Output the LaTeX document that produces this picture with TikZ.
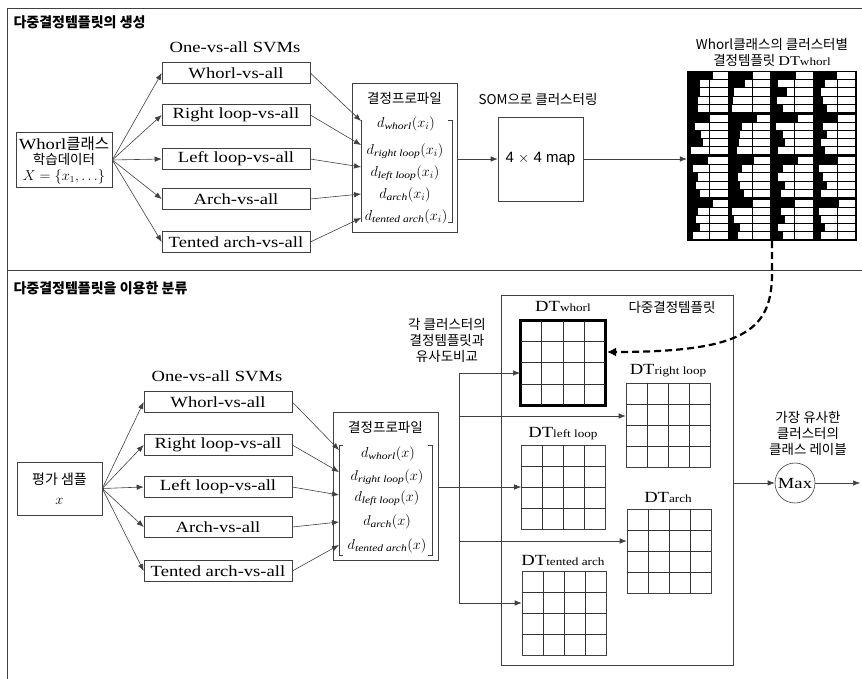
\documentclass[tikz,border=0pt]{standalone}
\usepackage{fontspec}
\setmainfont{Liberation Serif}[FakeStretch=1.2]
\setsansfont{Liberation Sans}
\newfontfamily\kr{Noto Sans CJK KR}
\usetikzlibrary{arrows.meta,calc}
\newcommand{\K}[1]{{\kr #1}}
\newcommand{\sm}[1]{{\fontsize{11}{12}\selectfont #1}}
\newcommand{\sub}[1]{\mbox{\fontsize{9.6}{11}\selectfont\itshape #1}}
\newcommand{\mygrid}[1]{%
  \foreach \i in {1,2,3}{%
    \draw[gl] ($(#1.north west)!\i/4!(#1.north east)$) -- ($(#1.south west)!\i/4!(#1.south east)$);
    \draw[gl] ($(#1.north west)!\i/4!(#1.south west)$) -- ($(#1.north east)!\i/4!(#1.south east)$);
  }}
\begin{document}
\begin{tikzpicture}[x=1pt,y=-1pt,
  lat/.style={font=\fontsize{15.5}{18}\selectfont},
  kor/.style={font=\kr\fontsize{13.5}{16}\selectfont},
  ttl/.style={font=\kr\bfseries\fontsize{14}{16}\selectfont, anchor=west},
  ent/.style={font=\fontsize{14.5}{17}\selectfont, inner sep=0pt},
  box/.style={draw=black!75, line width=0.6pt, inner sep=0pt},
  svm/.style={box, minimum width=148pt, minimum height=21pt, lat},
  conn/.style={draw=black!75, line width=0.6pt},
  arr/.style={conn, -{Latex[length=7pt,width=5.5pt]}},
  gl/.style={draw=black!80, line width=0.6pt},
  dt/.style={box, minimum width=84pt, minimum height=84pt},
  dtlab/.style={font=\fontsize{15.5}{18}\selectfont, inner sep=0pt},
]
\useasboundingbox (0,0) rectangle (862,679);

% frame
\draw[conn] (7,679) -- (7,8) -- (862,8);
\draw[conn] (7,270) -- (862,270);

% ================= top =================
\node[ttl] (title1) at (10,22) {다중결정템플릿의 생성};
\node[lat] (svmlab1) at (235,47) {One-vs-all SVMs};

\node[box, minimum width=96pt, minimum height=55pt, align=center, font=\fontsize{13.5}{15.5}\selectfont] (in1) at (64,160)
  {\fontsize{15.5}{15.5}\selectfont Whorl\K{클래스}\\ \K{학습데이터}\\ $X=\{x_1,\ldots\}$};

\node[svm] (s1) at (236,73) {Whorl-vs-all};
\node[svm] (s2) at (236,115) {Right loop-vs-all};
\node[svm] (s3) at (236,159) {Left loop-vs-all};
\node[svm] (s4) at (236,199) {Arch-vs-all};
\node[svm] (s5) at (236,242) {Tented arch-vs-all};
\foreach \n in {s1,s2,s3,s4,s5} \draw[arr] (in1.east) -- (\n.west);

\node[box, minimum width=105pt, minimum height=149pt] (prof1) at (404.5,157.5) {};
\node[kor] (pt1) at (404.5,98) {결정프로파일};
\node[ent] (e11) at (406,124) {$d_{\sub{whorl}}(x_i)$};
\node[ent] (e12) at (405,151) {$d_{\sub{right loop}}(x_i)$};
\node[ent] (e13) at (405,173) {$d_{\sub{left loop}}(x_i)$};
\node[ent] (e14) at (405,195) {$d_{\sub{arch}}(x_i)$};
\node[ent] (e15) at (406,217) {$d_{\sub{tented arch}}(x_i)$};
\draw[conn, line width=0.9pt] (361,120) -- (361,222);
\draw[conn, line width=0.9pt] (448,120) -- (452,120) -- (452,222) -- (448,222);
\coordinate (b11) at (361,121);
\coordinate (b12) at (361,145);
\coordinate (b13) at (361,167);
\coordinate (b14) at (361,194);
\coordinate (b15) at (361,218);
\draw[arr] (s1.east) -- (b11);
\draw[arr] (s2.east) -- (b12);
\draw[arr] (s3.east) -- (b13);
\draw[arr] (s4.east) -- (b14);
\draw[arr] (s5.east) -- (b15);

\node[kor] (somlab) at (538,99) {SOM으로 클러스터링};
\node[box, minimum width=85pt, minimum height=84pt, font=\sffamily\fontsize{15}{18}\selectfont] (map) at (540.5,159) {4 $\times$ 4 map};
\draw[arr] (prof1.east |- map) -- (map.west);

% big DT whorl grid
\node[kor, align=center] (dtwlab) at (772,52) {Whorl클래스의 클러스터별\\결정템플릿 {\rmfamily DT\sm{whorl}}};
\node[fill=black, minimum size=170pt, inner sep=0pt] (dtw) at (772,156) {};
\draw[arr] (map.east) -- (map.east -| dtw.west);
\foreach \ci/\cj/\ra/\rb/\rc/\rd/\re in {
  0/0/60/30/30/27/27, 0/1/55/37/10/8/6,   0/2/57/15/35/12/25, 0/3/53/25/15/20/30,
  1/0/55/18/33/37/10, 1/1/65/30/25/22/18, 1/2/60/10/25/30/15, 1/3/55/20/30/15/25,
  2/0/50/15/25/20/30, 2/1/57/30/20/25/35, 2/2/60/25/15/30/20, 2/3/55/10/20/30/15,
  3/0/60/25/20/30/15, 3/1/55/6/10/25/20,  3/2/53/20/30/15/25, 3/3/57/10/15/25/15}{
  \foreach \r/\s in {0/\ra,1/\rb,2/\rc,3/\rd,4/\re}{
    \fill[white] ({687+42.5*\cj+0.425*\s},{71+42.5*\ci+1.3+8.1*\r}) rectangle ({687+42.5*\cj+40.5},{71+42.5*\ci+1.3+8.1*\r+7.1});
  }
  \draw[black, line width=0.8pt] ({687+42.5*\cj+22.5},{71+42.5*\ci+9}) -- ({687+42.5*\cj+22.5},{71+42.5*\ci+42});
}

% ================= bottom =================
\node[ttl] (title2) at (10,288) {다중결정템플릿을 이용한 분류};
\node[lat] (svmlab2) at (217,376) {One-vs-all SVMs};

\node[box, minimum width=85pt, minimum height=53pt, align=center, font=\fontsize{14}{20}\selectfont] (in2) at (59.5,488.5)
  {\K{평가 샘플}\\ $x$};

\node[svm] (t1) at (218,402) {Whorl-vs-all};
\node[svm] (t2) at (218,445) {Right loop-vs-all};
\node[svm] (t3) at (218,487) {Left loop-vs-all};
\node[svm] (t4) at (218,527) {Arch-vs-all};
\node[svm] (t5) at (218,571) {Tented arch-vs-all};
\foreach \n in {t1,t2,t3,t4,t5} \draw[arr] (in2.east) -- (\n.west);

\node[box, minimum width=105pt, minimum height=148pt] (prof2) at (385.5,486) {};
\node[kor] (pt2) at (385.5,427) {결정프로파일};
\node[ent] (e21) at (388,454) {$d_{\sub{whorl}}(x)$};
\node[ent] (e22) at (387,477) {$d_{\sub{right loop}}(x)$};
\node[ent] (e23) at (387,498) {$d_{\sub{left loop}}(x)$};
\node[ent] (e24) at (387,522) {$d_{\sub{arch}}(x)$};
\node[ent] (e25) at (387,546) {$d_{\sub{tented arch}}(x)$};
\draw[conn, line width=0.9pt] (343,445) -- (339,445) -- (339,555) -- (343,555);
\draw[conn, line width=0.9pt] (428,445) -- (432,445) -- (432,555) -- (428,555);
\coordinate (b21) at (339,450);
\coordinate (b22) at (339,472);
\coordinate (b23) at (339,495);
\coordinate (b24) at (339,522);
\coordinate (b25) at (339,545);
\draw[arr] (t1.east) -- (b21);
\draw[arr] (t2.east) -- (b22);
\draw[arr] (t3.east) -- (b23);
\draw[arr] (t4.east) -- (b24);
\draw[arr] (t5.east) -- (b25);

% multiple decision templates
\node[box, minimum width=232pt, minimum height=370pt] (multi) at (617,480) {};
\node[kor] (multilab) at (672,307) {다중결정템플릿};

\node[dt, line width=2pt, draw=black] (dtw2) at (563,362.5) {};
\node[dtlab] (l1) at (563,306) {DT\sm{whorl}};
\node[dt] (dtr) at (668,425) {};
\node[dtlab] (l2) at (668,371) {DT\sm{right loop}};
\node[dt] (dtl) at (563.5,487.5) {};
\node[dtlab] (l3) at (563,434) {DT\sm{left loop}};
\node[dt] (dta) at (669,551) {};
\node[dtlab] (l4) at (668,497) {DT\sm{arch}};
\node[dt] (dtt) at (564,613.5) {};
\node[dtlab] (l5) at (563,560) {DT\sm{tented arch}};
\mygrid{dtw2}\mygrid{dtr}\mygrid{dtl}\mygrid{dta}\mygrid{dtt}
\draw[line width=2pt] (dtw2.north west) rectangle (dtw2.south east);

\node[kor, align=center] (cmp) at (447,340) {각 클러스터의\\결정템플릿과\\유사도비교};

% trunk
\coordinate (j0) at (459,487);
\coordinate (jt) at (459,373);
\coordinate (j2) at (459,416);
\coordinate (j4) at (459,541);
\coordinate (jb) at (459,603);
\draw[conn] (jt) -- (jb);
\draw[arr] (prof2.east |- j0) -- (dtl.west |- j0);
\draw[arr] (jt) -- (dtw2.west |- jt);
\draw[arr] (j2) -- (dtr.west |- j2);
\draw[arr] (j4) -- (dta.west |- j4);
\draw[arr] (jb) -- (dtt.west |- jb);

% max
\node[circle, draw=black!75, line width=0.6pt, minimum size=40pt, inner sep=0pt, lat] (max) at (795,483) {Max};
\node[kor, align=center] (maxlab) at (808,433) {가장 유사한\\클러스터의\\클래스 레이블};
\coordinate (out) at (860,483);
\draw[arr] (multi.east |- max) -- (max.west);
\draw[arr] (max.east) -- (out);

% dashed link
\coordinate (wtip) at (607,352);
\draw[line width=2.2pt, dash pattern=on 7pt off 4pt, -{Latex[length=9pt,width=9pt]}]
  (dtw.south) -- (772,273) .. controls (772,330) and (745,352) .. (wtip);
\end{tikzpicture}
\end{document}
